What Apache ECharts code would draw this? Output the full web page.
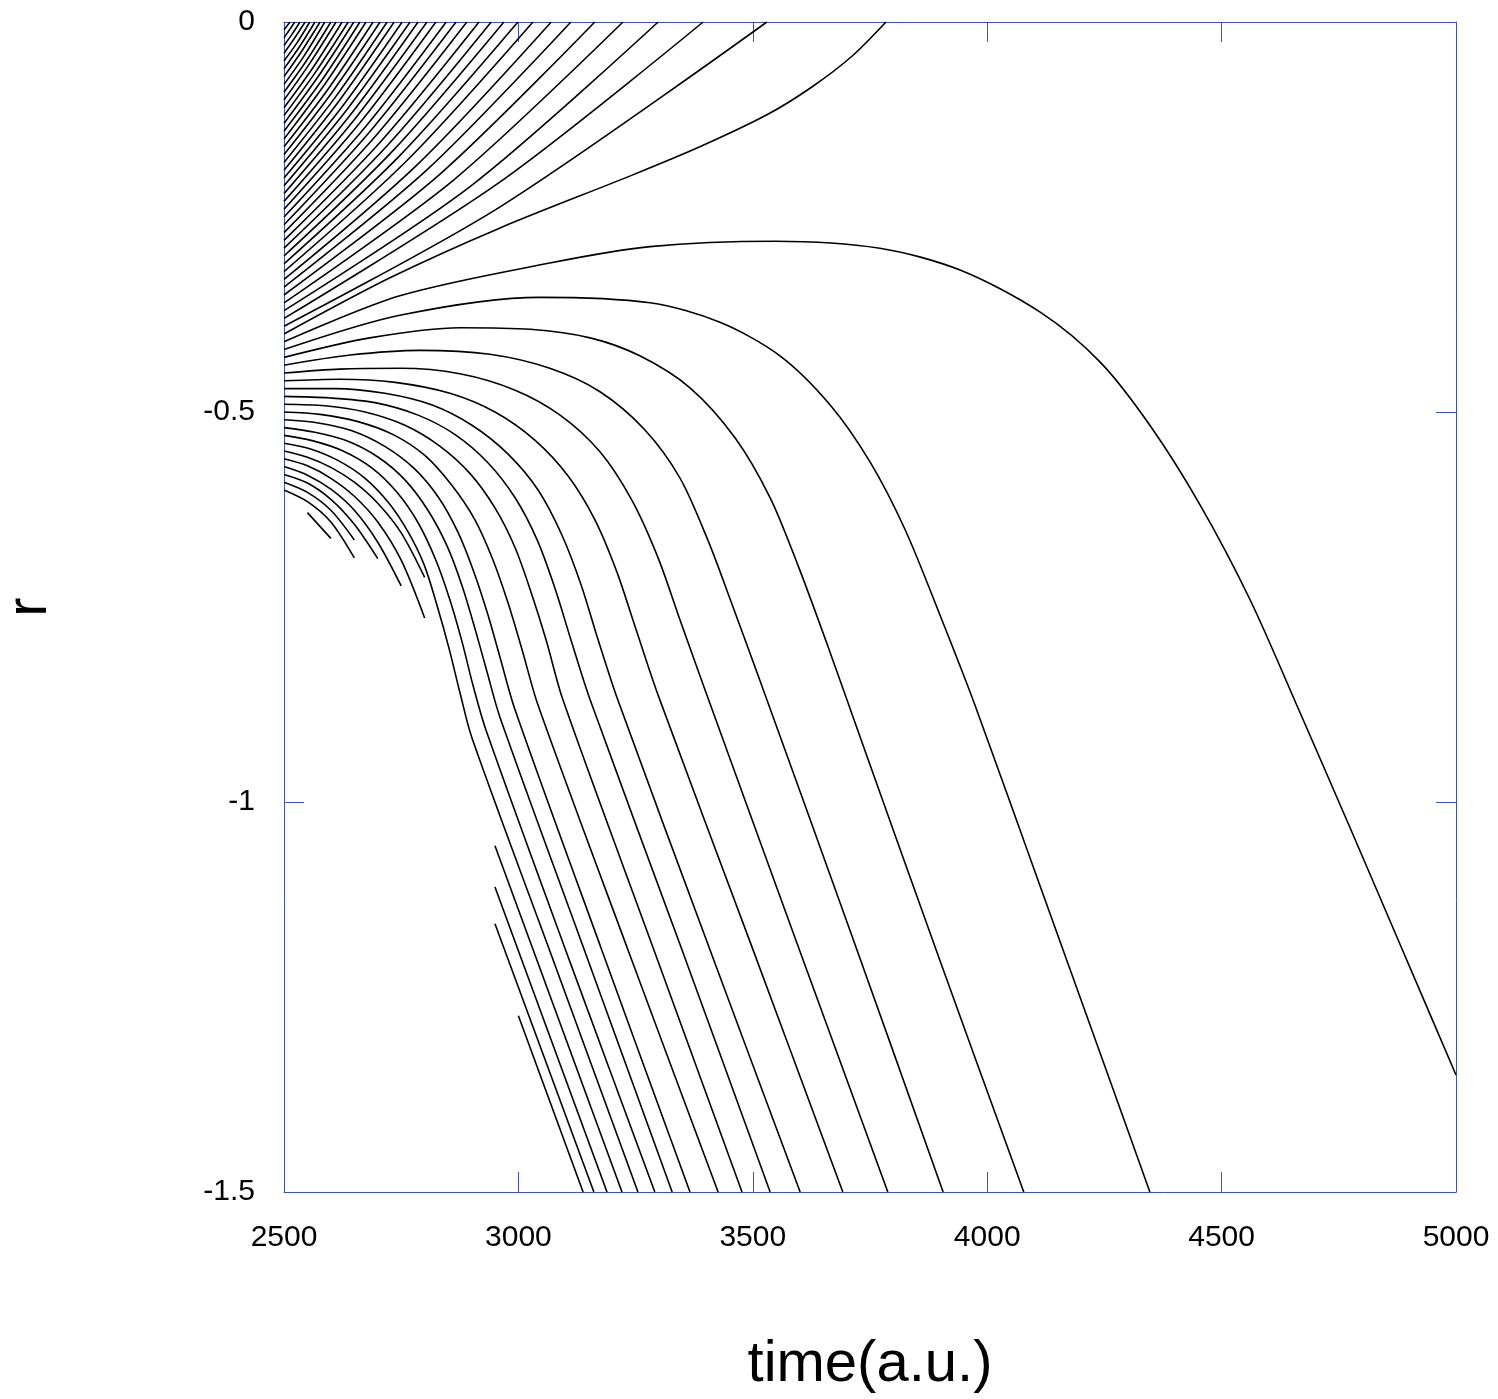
<!DOCTYPE html>
<html>
<head>
<meta charset="utf-8">
<script src="https://cdn.jsdelivr.net/npm/echarts@6/dist/echarts.min.js"></script>
<style>
  html, body { margin: 0; padding: 0; background: #fff; }
  #chart { width: 1498px; height: 1399px; }
</style>
</head>
<body>
<div id="chart"></div>
<script>
// Trajectories r(t); each track is a list of [time, r] samples.

// Tracks that rise and leave through r = 0
const risingTracks = [
  [[2500,-0.01],[2506,-0.0053],[2513,0]],
  [[2500,-0.02],[2511,-0.0106],[2523,0]],
  [[2500,-0.03],[2517,-0.0159],[2534,0]],
  [[2500,-0.04],[2522,-0.0212],[2545,0]],
  [[2500,-0.05],[2528,-0.0265],[2555,0]],
  [[2500,-0.06],[2533,-0.0318],[2566,0]],
  [[2500,-0.07],[2538,-0.0371],[2577,0]],
  [[2500,-0.08],[2544,-0.0424],[2587,0]],
  [[2500,-0.09],[2550,-0.0477],[2600,0]],
  [[2500,-0.10],[2555,-0.053],[2611,0]],
  [[2500,-0.11],[2562,-0.0583],[2624,0]],
  [[2500,-0.12],[2568,-0.0636],[2637,0]],
  [[2500,-0.13],[2574,-0.069],[2649,0]],
  [[2500,-0.14],[2581,-0.0744],[2662,0]],
  [[2500,-0.15],[2587,-0.0798],[2675,0]],
  [[2500,-0.16],[2595,-0.0852],[2690,0]],
  [[2500,-0.17],[2602,-0.0906],[2705,0]],
  [[2500,-0.18],[2610,-0.096],[2720,0]],
  [[2500,-0.19],[2617,-0.1015],[2735,0]],
  [[2500,-0.20],[2626,-0.107],[2752,0]],
  [[2500,-0.21],[2634,-0.1125],[2769,0]],
  [[2500,-0.22],[2643,-0.118],[2786,0]],
  [[2500,-0.23],[2652,-0.1236],[2805,0]],
  [[2500,-0.24],[2662,-0.1292],[2824,0]],
  [[2500,-0.25],[2673,-0.1349],[2846,0]],
  [[2500,-0.26],[2683,-0.1406],[2867,0]],
  [[2500,-0.27],[2695,-0.1464],[2890,0]],
  [[2500,-0.28],[2708,-0.1522],[2916,0]],
  [[2500,-0.29],[2721,-0.158],[2942,0]],
  [[2500,-0.30],[2734,-0.164],[2969,0]],
  [[2500,-0.31],[2749,-0.17],[2999,0]],
  [[2500,-0.32],[2765,-0.176],[3031,0]],
  [[2500,-0.33],[2785,-0.1825],[3070,0]],
  [[2500,-0.34],[2806,-0.189],[3112,0]],
  [[2500,-0.35],[2831,-0.196],[3163,0]],
  [[2500,-0.36],[2861,-0.203],[3223,0]],
  [[2500,-0.37],[2899,-0.21],[3298,0]],
  [[2500,-0.38],[2961,-0.205],[3394,0]],
  [[2500,-0.39],[2961,-0.237],[3530,0]],
  [[2500,-0.40],[2726,-0.328],[2961,-0.264],[3244,-0.196],[3387,-0.160],[3530,-0.119],[3626,-0.0833],[3712,-0.0436],[3784,0]]
];

// Tracks that turn over and fall towards large negative r
const fallingTracks = [
  [[2500,-0.41],[2747,-0.351],[3067,-0.309],[3281,-0.288],[3547,-0.281],[3771,-0.290],[3942,-0.318],[4113,-0.372],[4241,-0.436],[4347,-0.517],[4454,-0.619],[4561,-0.741],[4667,-0.885],[4774,-1.033],[4881,-1.183],[5000,-1.350]],
  [[2500,-0.42],[2747,-0.376],[3046,-0.353],[3281,-0.360],[3430,-0.385],[3558,-0.428],[3665,-0.491],[3750,-0.564],[3825,-0.651],[3899,-0.760],[3974,-0.876],[4113,-1.108],[4241,-1.322],[4347,-1.5]],
  [[2500,-0.43],[2683,-0.405],[2875,-0.392],[3025,-0.394],[3153,-0.405],[3259,-0.428],[3366,-0.469],[3462,-0.533],[3537,-0.610],[3596,-0.696],[3663,-0.805],[3735,-0.927],[3899,-1.203],[4078,-1.5]],
  [[2500,-0.44],[2641,-0.427],[2790,-0.421],[2939,-0.426],[3067,-0.444],[3174,-0.474],[3270,-0.523],[3345,-0.585],[3404,-0.664],[3456,-0.747],[3515,-0.844],[3707,-1.164],[3906,-1.5]],
  [[2500,-0.45],[2619,-0.445],[2747,-0.444],[2875,-0.451],[2993,-0.472],[3089,-0.504],[3174,-0.551],[3242,-0.613],[3298,-0.687],[3345,-0.767],[3398,-0.856],[3590,-1.174],[3788,-1.5]],
  [[2500,-0.46],[2619,-0.458],[2737,-0.462],[2854,-0.476],[2950,-0.500],[3035,-0.536],[3106,-0.582],[3163,-0.638],[3210,-0.705],[3251,-0.779],[3298,-0.863],[3494,-1.179],[3692,-1.5]],
  [[2500,-0.47],[2609,-0.470],[2715,-0.476],[2816,-0.491],[2901,-0.517],[2978,-0.554],[3042,-0.600],[3093,-0.658],[3134,-0.722],[3170,-0.792],[3212,-0.869],[3409,-1.190],[3601,-1.5]],
  [[2500,-0.48],[2598,-0.482],[2694,-0.488],[2786,-0.504],[2865,-0.529],[2935,-0.565],[2993,-0.610],[3040,-0.664],[3078,-0.726],[3112,-0.792],[3153,-0.869],[3345,-1.183],[3537,-1.5]],
  [[2500,-0.49],[2587,-0.492],[2673,-0.500],[2758,-0.517],[2833,-0.544],[2897,-0.579],[2950,-0.623],[2993,-0.674],[3027,-0.731],[3059,-0.792],[3095,-0.869],[3285,-1.183],[3477,-1.5]],
  [[2500,-0.50],[2577,-0.503],[2656,-0.512],[2733,-0.529],[2801,-0.556],[2858,-0.594],[2907,-0.638],[2946,-0.690],[2978,-0.745],[3008,-0.805],[3042,-0.876],[3234,-1.190],[3426,-1.5]],
  [[2500,-0.51],[2573,-0.514],[2645,-0.524],[2715,-0.544],[2777,-0.572],[2829,-0.609],[2871,-0.654],[2905,-0.705],[2935,-0.760],[2961,-0.815],[2993,-0.882],[3178,-1.190],[3366,-1.5]],
  [[2500,-0.52],[2566,-0.526],[2634,-0.537],[2701,-0.558],[2758,-0.587],[2807,-0.626],[2848,-0.672],[2880,-0.723],[2907,-0.777],[2933,-0.833],[2961,-0.892],[3142,-1.192],[3328,-1.5]],
  [[2500,-0.53],[2562,-0.537],[2626,-0.550],[2688,-0.572],[2741,-0.603],[2786,-0.642],[2824,-0.690],[2854,-0.741],[2880,-0.795],[2903,-0.850],[2931,-0.908],[3110,-1.205],[3291,-1.5]],
  [[2500,-0.54],[2555,-0.547],[2615,-0.562],[2673,-0.585],[2724,-0.617],[2765,-0.654],[2799,-0.696],[2826,-0.747],[2852,-0.803],[2875,-0.859],[2901,-0.918],[3078,-1.209],[3255,-1.5]]
];

// Tracks whose sampling stops early
const brokenTracks = [
  [[2500,-0.55],[2550,-0.558],[2600,-0.571],[2650,-0.59],[2700,-0.617],[2750,-0.655],[2800,-0.712]],
  [[2500,-0.56],[2550,-0.569],[2600,-0.585],[2650,-0.608],[2700,-0.641],[2750,-0.69],[2800,-0.764]],
  [[2500,-0.57],[2550,-0.581],[2600,-0.599],[2650,-0.626],[2700,-0.667],[2750,-0.723]],
  [[2500,-0.58],[2550,-0.591],[2600,-0.612],[2650,-0.644],[2700,-0.688]],
  [[2500,-0.59],[2550,-0.603],[2600,-0.626],[2650,-0.664]],
  [[2500,-0.60],[2550,-0.615],[2600,-0.641],[2650,-0.687]],
  [[2550,-0.629],[2600,-0.662]]
];

// Tracks that reappear further down after a gap
const resumedTracks = [
  [[2950,-1.056],[3221,-1.5]],
  [[2950,-1.109],[3189,-1.5]],
  [[2950,-1.156],[3161,-1.5]],
  [[3000,-1.274],[3138,-1.5]]
];

const frameBlue = '#3f51c0';
const labelFont = '"Liberation Sans", Arial, Helvetica, sans-serif';

const allTracks = [].concat(risingTracks, fallingTracks, brokenTracks, resumedTracks);

const series = allTracks.map(function (track) {
  return {
    type: 'line',
    data: track,
    showSymbol: false,
    smooth: track.length > 2 ? 0.3 : false,
    clip: true,
    silent: true,
    lineStyle: { color: '#000', width: 1.6 }
  };
});

function axisCommon(extra) {
  return Object.assign({
    type: 'value',
    axisLine: { show: true, onZero: false, lineStyle: { color: frameBlue, width: 1 } },
    axisTick: { show: true, inside: true, length: 20, lineStyle: { color: frameBlue, width: 1 } },
    splitLine: { show: false }
  }, extra);
}

const chart = echarts.init(document.getElementById('chart'), null, { renderer: 'canvas' });
chart.setOption({
  animation: false,
  backgroundColor: '#fff',
  grid: { left: 284, top: 22, width: 1172, height: 1170, containLabel: false, outerBoundsMode: 'none' },
  xAxis: [
    axisCommon({
      min: 2500, max: 5000, interval: 500, position: 'bottom',
      axisLabel: { color: '#000', fontSize: 30, fontFamily: labelFont, margin: 31,
                   formatter: function (v) { return String(v); } },
      name: 'time(a.u.)', nameLocation: 'middle', nameGap: 144,
      nameTextStyle: { color: '#000', fontSize: 58, fontFamily: labelFont }
    }),
    axisCommon({
      min: 2500, max: 5000, interval: 500, position: 'top',
      axisLabel: { show: false }
    })
  ],
  yAxis: [
    axisCommon({
      min: -1.5, max: 0, interval: 0.5, position: 'left',
      axisLabel: { color: '#000', fontSize: 30, fontFamily: labelFont, margin: 29,
                   formatter: function (v) { return String(v); } },
      name: 'r', nameLocation: 'middle', nameGap: 225, nameRotate: 90,
      nameTextStyle: { color: '#000', fontSize: 58, fontFamily: labelFont }
    }),
    axisCommon({
      min: -1.5, max: 0, interval: 0.5, position: 'right',
      axisLabel: { show: false }
    })
  ],
  series: series
});
</script>
</body>
</html>
